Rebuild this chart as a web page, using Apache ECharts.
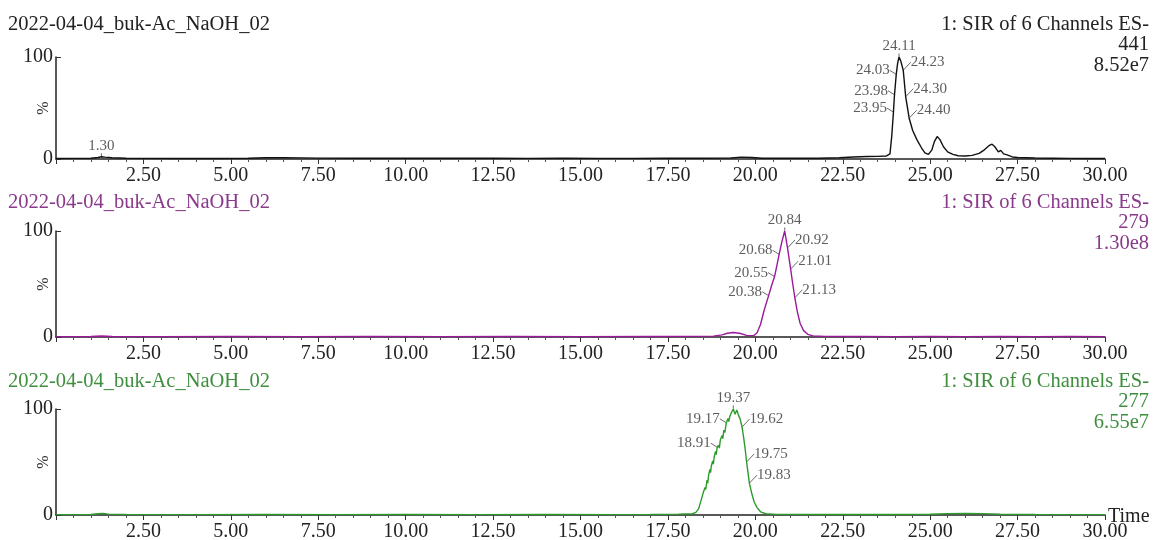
<!DOCTYPE html>
<html>
<head>
<meta charset="utf-8">
<script src="https://cdn.jsdelivr.net/npm/echarts@6/dist/echarts.min.js"></script>
<style>
  html, body { margin: 0; padding: 0; background: #fff; }
  #main { width: 1160px; height: 540px; }
</style>
</head>
<body>
<div id="main"></div>
<script>
var dom = document.getElementById("main");
var myChart = echarts.init(dom);

// run name and channel info for each trace
var runName = '2022-04-04_buk-Ac_NaOH_02';
var channelTitle = '1: SIR of 6 Channels ES-';
var channels = ['441', '279', '277'];
var intensities = ['8.52e7', '1.30e8', '6.55e7'];

// x axis: retention time (min)
var timeMin = 0, timeMax = 30, timeStep = 2.5;

// traces: [time, %]
var trace441 = [
  [0,0.5],[0.5,0.6],[1.0,0.8],[1.2,1.5],[1.3,2.2],[1.4,1.8],[1.6,1.2],[2.0,0.8],[2.5,0.6],
  [3.5,0.5],[4.5,0.5],[5.5,0.7],[6.0,1.2],[6.5,1.3],[7.0,1.1],[7.5,0.9],[8.5,0.8],[9.5,0.9],
  [10.5,0.7],[11.5,0.8],[12.5,0.7],[13.5,0.6],[14.5,0.7],[15.5,0.6],[16.5,0.6],[17.5,0.7],
  [18.5,0.8],[19.3,1.0],[19.6,1.8],[19.9,1.5],[20.2,0.8],[21.0,0.7],[21.8,0.8],[22.4,1.2],
  [22.8,2.0],[23.2,2.4],[23.5,2.6],[23.75,3.0],[23.85,5],[23.9,22],[23.95,46],[23.98,63],
  [24.03,83],[24.07,94],[24.11,100],[24.16,96],[24.23,87],[24.30,61],[24.40,40],[24.5,28],
  [24.62,19],[24.75,11],[24.85,6],[24.95,4.5],[25.05,9],[25.12,17],[25.2,22],[25.28,19],
  [25.38,12],[25.5,7],[25.65,4.5],[25.8,3.2],[26.0,3],[26.2,3.6],[26.4,5.5],[26.55,9],
  [26.68,13],[26.77,14.5],[26.85,12],[26.95,7],[27.02,8.5],[27.1,5],[27.2,4],[27.25,3],
  [27.35,2],[27.5,1.5],[28,1.0],[28.5,0.8],[29,0.6],[29.5,0.5],[30,0.5]
];
var trace279 = [
  [0,0.4],[1,0.5],[1.3,0.9],[1.6,0.5],[3,0.4],[5,0.5],[7,0.4],[9,0.5],[11,0.4],[13,0.5],
  [15,0.4],[17,0.5],[18,0.6],[18.8,0.8],[19.05,2],[19.2,3.5],[19.37,4.2],[19.55,3.5],
  [19.75,1.5],[19.95,1.2],[20.05,4],[20.15,12],[20.25,25],[20.38,39],[20.47,49],[20.55,57],
  [20.62,68],[20.68,78],[20.76,90],[20.84,100],[20.88,92],[20.92,84],[20.97,73],[21.01,64],
  [21.07,50],[21.13,37],[21.2,24],[21.28,13],[21.38,6],[21.5,2.5],[21.65,1],[22,0.6],
  [23,0.5],[24,0.4],[25,0.5],[26,0.4],[27,0.6],[28,0.4],[29,0.5],[30,0.4]
];
var trace277 = [
  [0,0.4],[1,0.5],[1.2,1.2],[1.35,1.5],[1.5,0.8],[2,0.5],[4,0.4],[6,0.5],[8,0.4],[10,0.5],
  [12,0.4],[14,0.5],[16,0.4],[17,0.5],[17.8,0.8],[18.2,1.2],[18.3,2.5],[18.38,6],[18.45,14],
  [18.52,22],[18.56,26],[18.58,24],[18.62,33],[18.64,30],[18.66,37],[18.7,43],[18.72,40],
  [18.74,46],[18.78,51],[18.8,48],[18.82,54],[18.86,60],[18.88,57],[18.91,64],[18.95,66],
  [18.97,63],[19.0,71],[19.05,75],[19.07,72],[19.1,80],[19.13,78],[19.17,87],[19.22,91],
  [19.24,88],[19.27,93],[19.32,97],[19.37,100],[19.42,95],[19.47,99],[19.52,94],[19.57,90],
  [19.62,83],[19.67,72],[19.71,62],[19.75,50],[19.79,40],[19.83,30],[19.9,20],[19.97,12],
  [20.05,7],[20.15,3],[20.3,1.2],[20.6,0.6],[22,0.5],[24,0.5],[25,0.7],[25.5,1.3],[26,1.5],
  [26.5,1.3],[27,0.7],[28,0.5],[30,0.4]
];

// labelled retention times on each trace
var peaks441 = [1.30, 23.95, 23.98, 24.03, 24.11, 24.23, 24.30, 24.40];
var peaks279 = [20.38, 20.55, 20.68, 20.84, 20.92, 21.01, 21.13];
var peaks277 = [18.91, 19.17, 19.37, 19.62, 19.75, 19.83];

var traces = [trace441, trace279, trace277];
var peaks = [peaks441, peaks279, peaks277];
var lineColors = ['#111111', '#9a1a9a', '#2b9b2b'];
var textColors = ['#222222', '#8a3a8a', '#3f8f3f'];

var font = '"Liberation Serif", "Times New Roman", serif';
var gridTops = [57, 231, 409];
var gridHeights = [102, 106, 106];

function peakSeries(gi, curve, times) {
  var pts = times.map(function (t) {
    return curve.find(function (p) { return Math.abs(p[0] - t) < 1e-6; });
  });
  var apex = pts.reduce(function (a, b) { return b[1] > a[1] ? b : a; });
  var side = pts.map(function (p) {
    if (p === apex || Math.abs(p[0] - apex[0]) > 2) return 0;
    return p[0] < apex[0] ? -1 : 1;
  });
  return {
    type: 'scatter',
    xAxisIndex: gi,
    yAxisIndex: gi,
    symbolSize: 1,
    silent: true,
    itemStyle: { color: lineColors[gi] },
    data: pts.map(function (p, i) {
      return {
        value: p,
        label: { position: side[i] === 0 ? 'top' : (side[i] < 0 ? 'left' : 'right') }
      };
    }),
    label: {
      show: true,
      formatter: function (p) { return p.value[0].toFixed(2); },
      fontFamily: font,
      fontSize: 15,
      color: '#333',
      distance: 3
    },
    labelLine: { show: true, lineStyle: { color: '#444', width: 0.8 } },
    labelLayout: function (p) {
      var s = side[p.dataIndex];
      if (s === 0) return {};
      return s < 0 ? { dx: -3, dy: -4 } : { dx: 4, dy: -8 };
    },
    z: 5
  };
}

var grids = [], xAxes = [], yAxes = [], series = [], graphics = [];
for (var i = 0; i < 3; i++) {
  grids.push({
    left: 56, right: 55, top: gridTops[i], height: gridHeights[i],
    containLabel: false, outerBoundsMode: 'none'
  });
  xAxes.push({
    type: 'value',
    gridIndex: i,
    min: timeMin,
    max: timeMax,
    interval: timeStep,
    name: i === 2 ? 'Time' : '',
    nameLocation: 'end',
    nameGap: 3,
    nameMoveOverlap: false,
    nameTextStyle: { fontFamily: font, fontSize: 20, color: '#222', verticalAlign: 'top', padding: [-8, 0, 0, 0] },
    axisLine: { show: true, onZero: false, lineStyle: { color: '#222', width: 1.5 } },
    axisTick: { show: true, length: 5, lineStyle: { color: '#333' } },
    minorTick: { show: true, splitNumber: 5, length: 3, lineStyle: { color: '#555' } },
    splitLine: { show: false },
    axisLabel: {
      fontFamily: font,
      fontSize: 20,
      color: '#222',
      margin: 7,
      formatter: function (v) { return v === 0 ? '' : v.toFixed(2); }
    }
  });
  yAxes.push({
    type: 'value',
    gridIndex: i,
    min: 0,
    max: 100,
    interval: 100,
    name: '%',
    nameLocation: 'middle',
    nameGap: 4,
    nameMoveOverlap: false,
    nameRotate: 90,
    nameTextStyle: { fontFamily: font, fontSize: 16, color: '#333' },
    axisLine: { show: true, lineStyle: { color: '#222', width: 1.5 } },
    axisTick: { show: true, inside: true, length: 5, lineStyle: { color: '#333' } },
    splitLine: { show: false },
    axisLabel: { fontFamily: font, fontSize: 20, color: '#222', margin: 3 }
  });
  series.push({
    type: 'line',
    xAxisIndex: i,
    yAxisIndex: i,
    data: traces[i],
    symbol: 'none',
    silent: true,
    lineStyle: { color: lineColors[i], width: 1.4 },
    z: 3
  });
  series.push(peakSeries(i, traces[i], peaks[i]));

  var titleTop = [14, 192, 371][i];
  graphics.push({
    type: 'text',
    left: 8,
    top: titleTop,
    style: { text: runName, font: '20.5px ' + font, fill: textColors[i] }
  });
  [channelTitle, channels[i], intensities[i]].forEach(function (line, k) {
    graphics.push({
      type: 'text',
      right: 11,
      top: titleTop + k * 20.5,
      style: { text: line, font: '20.5px ' + font, fill: textColors[i] }
    });
  });
}

var option = {
  backgroundColor: '#fff',
  animation: false,
  grid: grids,
  xAxis: xAxes,
  yAxis: yAxes,
  series: series,
  graphic: graphics
};

if (option && typeof option === "object") {
  myChart.setOption(option, true);
}
</script>
</body>
</html>
